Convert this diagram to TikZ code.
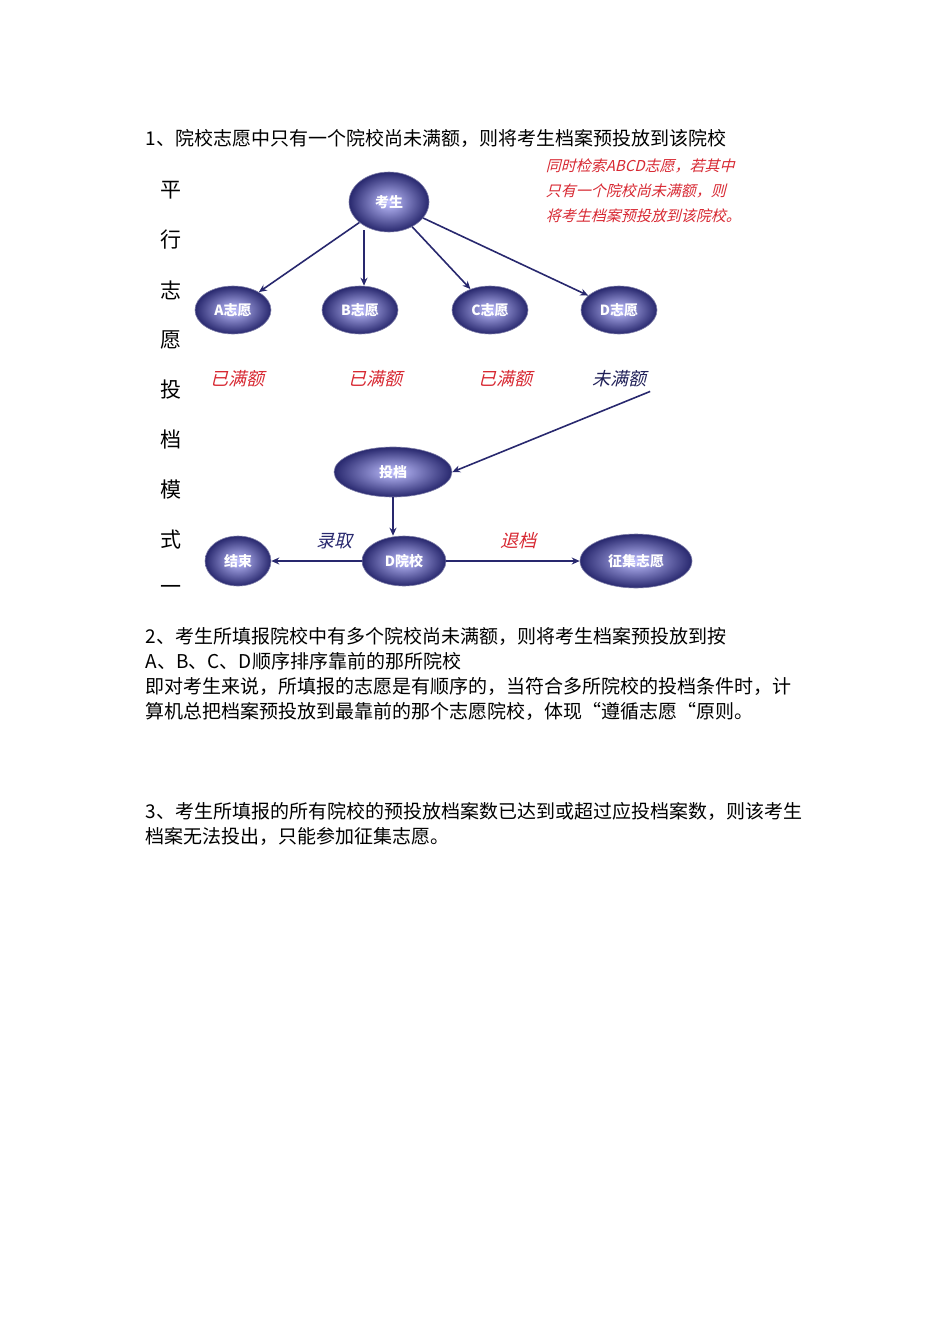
\documentclass[tikz,border=0pt]{standalone}
\usepackage{fontspec}
\setmainfont{Noto Sans CJK SC}
\newfontfamily\cjk{Noto Sans CJK SC}
\newfontfamily\cjkit[FakeSlant=0.25]{Noto Sans CJK SC}
\usetikzlibrary{shapes.geometric,arrows.meta}
\definecolor{navy}{RGB}{40,40,110}
\definecolor{notered}{RGB}{215,40,50}
\begin{document}
\begin{tikzpicture}[x=1pt,y=-1pt,
                    line width=1.6pt,
                    ]
    \tikzstyle{ball}=[ellipse,draw=navy!60,line width=0.6pt,inner color=blue!25!white,outer color=navy,text=white,font=\cjk\fontsize{14}{14}\selectfont\bfseries,inner sep=0pt]
    \tikzstyle{state}=[font=\cjkit\fontsize{18}{18}\selectfont]
    \tikzstyle{note}=[text=notered,anchor=west,inner sep=0pt,font=\cjkit\fontsize{15}{15}\selectfont]
    \tikzstyle{body}=[anchor=west,font=\fontsize{19}{19}\selectfont,inner sep=0pt]
    \tikzstyle{link}=[draw=navy,-{Stealth[length=8pt,width=7pt]}]

    \useasboundingbox (0,0) rectangle (950,1344);

    % text around the picture
    \node[body] (t1) at (145,138) {1、院校志愿中只有一个院校尚未满额，则将考生档案预投放到该院校};
    \node[body] (t2) at (145,636) {2、考生所填报院校中有多个院校尚未满额，则将考生档案预投放到按};
    \node[body] (t3) at (145,661) {A、B、C、D顺序排序靠前的那所院校};
    \node[body] (t4) at (145,686) {即对考生来说，所填报的志愿是有顺序的，当符合多所院校的投档条件时，计};
    \node[body] (t5) at (145,711) {算机总把档案预投放到最靠前的那个志愿院校，体现“遵循志愿“原则。};
    \node[body] (t6) at (145,811) {3、考生所填报的所有院校的预投放档案数已达到或超过应投档案数，则该考生};
    \node[body] (t7) at (145,836) {档案无法投出，只能参加征集志愿。};

    % vertical title
    \foreach \ch [count=\i from 0] in {平,行,志,愿,投,档,模,式,一}
        \node[font=\fontsize{21}{21}\selectfont] (v\i) at (171,190+50*\i) {\ch};

    % note
    \node[note] (n1) at (545,166) {同时检索ABCD志愿，若其中};
    \node[note] (n2) at (545,191) {只有一个院校尚未满额，则};
    \node[note] (n3) at (545,216) {将考生档案预投放到该院校。};

    % nodes
    \node[ball,minimum width=80,minimum height=60] (ks) at (389,202) {考生};
    \node[ball,minimum width=76,minimum height=48] (A) at (233,310) {A志愿};
    \node[ball,minimum width=76,minimum height=48] (B) at (360,310) {B志愿};
    \node[ball,minimum width=76,minimum height=48] (C) at (490,310) {C志愿};
    \node[ball,minimum width=76,minimum height=48] (D) at (619,310) {D志愿};
    \node[ball,minimum width=118,minimum height=50] (td) at (393,472) {投档};
    \node[ball,minimum width=66,minimum height=50] (end) at (238,561) {结束};
    \node[ball,minimum width=84,minimum height=50] (dy) at (404,561) {D院校};
    \node[ball,minimum width=112,minimum height=54] (zj) at (636,561) {征集志愿};

    \node[state,text=notered] (sA) at (237,379) {已满额};
    \node[state,text=notered] (sB) at (375,379) {已满额};
    \node[state,text=notered] (sC) at (505,379) {已满额};
    \node[state,text=navy!80!black] (sD) at (619,379) {未满额};
    \node[state,text=navy] (lq) at (334,541) {录取};
    \node[state,text=notered] (tdang) at (518,541) {退档};

    % connectors
    \draw[link] (ks) -- (A);
    \draw[link] (364,230) -- (B.north -| 364,0);
    \draw[link] (ks) -- (C);
    \draw[link] (ks) -- (D);
    \draw[link] (sD.south east) -- (td.east);
    \draw[link] (td.south) -- (dy.north -| td.south);
    \draw[link] (dy) -- (end);
    \draw[link] (dy) -- (zj);
\end{tikzpicture}
\end{document}
